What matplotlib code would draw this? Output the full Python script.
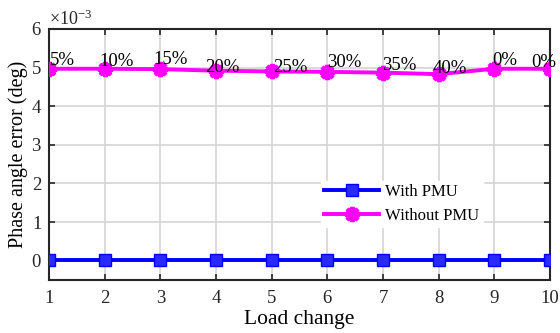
import numpy as np
import matplotlib
matplotlib.use("Agg")
import matplotlib.pyplot as plt
from matplotlib.ticker import ScalarFormatter

plt.rcParams['font.family'] = ['Liberation Serif', 'DejaVu Serif']
plt.rcParams['mathtext.fontset'] = 'custom'
plt.rcParams['mathtext.rm'] = 'Liberation Serif'
plt.rcParams['mathtext.it'] = 'Liberation Serif:italic'

# data (phase angle error in deg)
load_change = [1, 2, 3, 4, 5, 6, 7, 8, 9, 10]
with_pmu = [0.01e-3, 0.01e-3, 0.01e-3, 0.01e-3, 0.01e-3,
            0.01e-3, 0.01e-3, 0.01e-3, 0.01e-3, 0.01e-3]
without_pmu = [4.97e-3, 4.97e-3, 4.96e-3, 4.92e-3, 4.90e-3,
               4.89e-3, 4.87e-3, 4.83e-3, 4.97e-3, 4.97e-3]
pct_labels = ['5%', '10%', '15%', '20%', '25%', '30%', '35%', '40%', '0%', '0%']

# label offsets in pixels (dx, dy)
label_offsets = [(1, 8), (-5, 7), (-7, 10), (-11, 3), (1, 4),
                 (0, 9), (-1, 7), (-6, 6), (-2, 8), (-19, 6)]

fig = plt.figure(figsize=(5.6, 3.33), dpi=100)
ax = fig.add_axes([0.0875, 0.159, 0.8945, 0.754])

ax.grid(True, color='#d4d4d4', linewidth=1.2, linestyle='-')
ax.set_axisbelow(True)

ax.plot(load_change, with_pmu, color='#0000ff', linewidth=2.8, marker='s',
        markersize=8, markerfacecolor='#2a2aff', markeredgecolor='#0000ff',
        label='With PMU', zorder=3)
ax.plot(load_change, without_pmu, color='#ff00ff', linewidth=2.8,
        marker=(8, 2, 0), markersize=11, markeredgewidth=3,
        label='Without PMU', zorder=3)

for x, y, lab, (dx, dy) in zip(load_change, without_pmu, pct_labels, label_offsets):
    ax.annotate(lab, (x, y), xytext=(dx, dy), textcoords='offset pixels',
                ha='left', va='center', fontsize=13.5, zorder=4)

ax.set_xlim(1, 10)
ax.set_ylim(-0.5e-3, 6e-3)
ax.set_xticks(load_change)
ax.set_yticks(np.arange(0, 7) * 1e-3)

fmt = ScalarFormatter(useMathText=True)
fmt.set_powerlimits((-2, 2))
ax.yaxis.set_major_formatter(fmt)
ax.yaxis.get_offset_text().set_fontsize(13)

ax.tick_params(direction='in', top=True, right=True, labelsize=13.5,
               length=4, width=1.2, colors='#262626')
ax.tick_params(axis='x', pad=7)
ax.tick_params(axis='y', pad=5)
for sp in ax.spines.values():
    sp.set_linewidth(1.5)
    sp.set_color('#262626')

ax.set_xlabel('Load change', fontsize=15.5, labelpad=2)
ax.set_ylabel('Phase angle error (deg)', fontsize=14.5, labelpad=2)

leg = ax.legend(loc='center left', bbox_to_anchor=(0.543, 0.303), frameon=True,
                fontsize=12, handlelength=3.3, handletextpad=0.35,
                labelspacing=0.45, borderpad=0.2, borderaxespad=0)
leg.get_frame().set_edgecolor('white')
leg.get_frame().set_facecolor('white')
leg.get_frame().set_alpha(1)
leg.get_frame().set_boxstyle('square', pad=0)

fig.savefig('out.png', dpi=100)
